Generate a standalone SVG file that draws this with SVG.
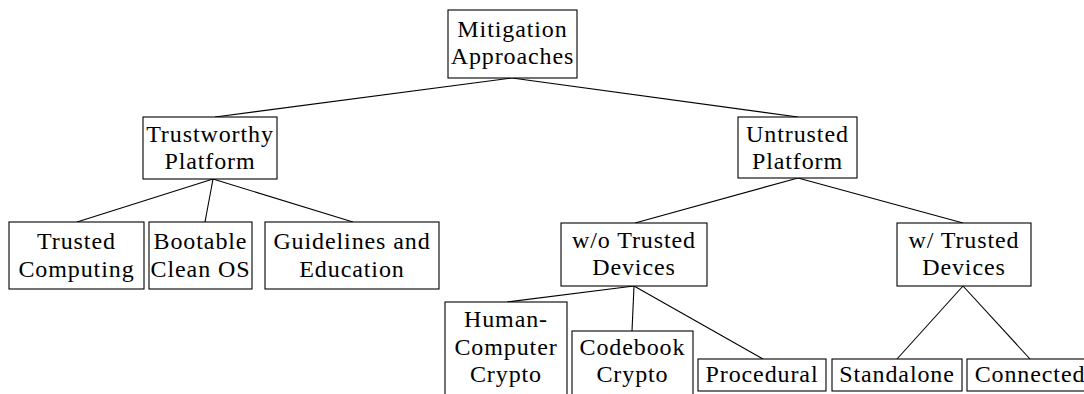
<svg xmlns="http://www.w3.org/2000/svg" width="1084" height="394" viewBox="0 0 1084 394">
  <style>
    .box { fill: #ffffff; stroke: #000000; stroke-width: 1.1; }
    .lbl { font-family: "Liberation Serif", "Times New Roman", serif; font-size: 24px; letter-spacing: 0.9px; fill: #000000; text-anchor: middle; }
    .edge { stroke: #000000; stroke-width: 1.1; fill: none; }
  </style>
  <rect width="1084" height="394" fill="#ffffff"/>

  <!-- tree edges -->
  <g id="connectors">
    <line class="edge" x1="512" y1="78" x2="215" y2="117"/>
    <line class="edge" x1="512" y1="78" x2="798" y2="117"/>
    <line class="edge" x1="213" y1="179" x2="77" y2="222"/>
    <line class="edge" x1="213" y1="179" x2="205" y2="222"/>
    <line class="edge" x1="213" y1="179" x2="353" y2="222"/>
    <line class="edge" x1="798" y1="178" x2="635" y2="223"/>
    <line class="edge" x1="798" y1="178" x2="963" y2="223"/>
    <line class="edge" x1="634" y1="286" x2="507" y2="302"/>
    <line class="edge" x1="634" y1="286" x2="632" y2="331"/>
    <line class="edge" x1="634" y1="286" x2="763" y2="359"/>
    <line class="edge" x1="963" y1="286" x2="897" y2="359"/>
    <line class="edge" x1="963" y1="286" x2="1030" y2="359"/>
  </g>

  <g id="root">
    <rect class="box" x="448" y="10" width="129" height="68"/>
    <text class="lbl" x="512.5" y="37">Mitigation</text>
    <text class="lbl" x="512.5" y="64">Approaches</text>
  </g>

  <g id="trustworthy">
    <rect class="box" x="143" y="117" width="134" height="62"/>
    <text class="lbl" x="210" y="142">Trustworthy</text>
    <text class="lbl" x="210" y="169">Platform</text>
  </g>

  <g id="untrusted">
    <rect class="box" x="738" y="117" width="119" height="61"/>
    <text class="lbl" x="797.5" y="142">Untrusted</text>
    <text class="lbl" x="797.5" y="169">Platform</text>
  </g>

  <g id="trusted-computing">
    <rect class="box" x="9" y="222" width="135" height="67"/>
    <text class="lbl" x="76.5" y="249">Trusted</text>
    <text class="lbl" x="76.5" y="277">Computing</text>
  </g>

  <g id="bootable">
    <rect class="box" x="149" y="222" width="103" height="67"/>
    <text class="lbl" x="200.5" y="249">Bootable</text>
    <text class="lbl" x="200.5" y="277">Clean OS</text>
  </g>

  <g id="guidelines">
    <rect class="box" x="265" y="222" width="174" height="67"/>
    <text class="lbl" x="352" y="249">Guidelines and</text>
    <text class="lbl" x="352" y="277">Education</text>
  </g>

  <g id="without-devices">
    <rect class="box" x="561" y="223" width="146" height="63"/>
    <text class="lbl" x="634" y="248">w/o Trusted</text>
    <text class="lbl" x="634" y="275">Devices</text>
  </g>

  <g id="with-devices">
    <rect class="box" x="897" y="223" width="134" height="63"/>
    <text class="lbl" x="964" y="248">w/ Trusted</text>
    <text class="lbl" x="964" y="275">Devices</text>
  </g>

  <g id="human-computer">
    <rect class="box" x="445" y="302" width="122" height="100"/>
    <text class="lbl" x="506" y="327">Human-</text>
    <text class="lbl" x="506" y="355">Computer</text>
    <text class="lbl" x="506" y="382">Crypto</text>
  </g>

  <g id="codebook">
    <rect class="box" x="572" y="331" width="121" height="70"/>
    <text class="lbl" x="632.5" y="355">Codebook</text>
    <text class="lbl" x="632.5" y="382">Crypto</text>
  </g>

  <g id="procedural">
    <rect class="box" x="698" y="359" width="128" height="32"/>
    <text class="lbl" x="762" y="382">Procedural</text>
  </g>

  <g id="standalone">
    <rect class="box" x="832" y="359" width="130" height="32"/>
    <text class="lbl" x="897" y="382">Standalone</text>
  </g>

  <g id="connected">
    <rect class="box" x="967" y="359" width="126" height="32"/>
    <text class="lbl" x="1030" y="382">Connected</text>
  </g>
</svg>
